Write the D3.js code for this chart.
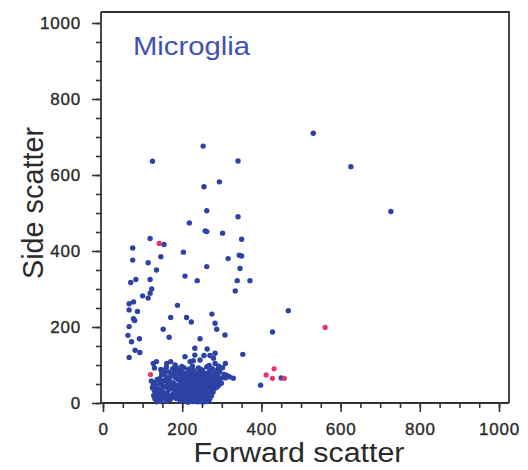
<!DOCTYPE html>
<html>
<head>
<meta charset="utf-8">
<script src="https://cdn.jsdelivr.net/npm/d3@7"></script>
<style>
  html, body { margin: 0; padding: 0; background: #fff; }
  svg { display: block; }
  text { font-family: "Liberation Sans", Arial, sans-serif; }
</style>
</head>
<body>
<svg id="chart" width="528" height="470"></svg>
<script>
// ---------- data ----------
const title = "Microglia";
const xTitle = "Forward scatter";
const yTitle = "Side scatter";
const xTicks = [0, 200, 400, 600, 800, 1000];
const yTicks = [0, 200, 400, 600, 800, 1000];

// blue events, sparse region  [forward, side]
const blueSparse = [
  [125,636],[253,676],[341,637],[255,569],[294,582],[262,506],[341,490],[218,474],
  [258,453],[262,451],[302,447],[531,710],[626,622],[727,504],
  [119,433],[154,417],[75,408],[203,397],[316,380],[146,385],[75,376],[114,369],
  [262,359],[135,350],[207,334],[83,325],[70,317],[119,325],[238,322],[123,300],
  [119,289],[100,282],[114,276],[77,266],[66,261],[188,257],[66,245],[87,241],
  [77,222],[80,217],[171,225],[211,225],[223,213],[275,234],[283,210],[66,201],
  [152,194],[287,194],[63,178],[92,169],[167,173],[245,169],[308,179],
  [350,431],[344,389],[350,387],[346,354],[339,322],[371,322],[334,295],[468,243],[428,187],
  [72,161],[81,139],[93,133],[66,120],[232,144],[263,142],[283,131],[353,128],
  [398,47],[450,66]
];

// blue events, dense cluster  [forward, side]
const blueCluster = [
  [127,104],[135,109],[161,104],[171,109],[182,100],[199,96],[207,122],[220,109],
  [228,111],[232,126],[245,113],[255,125],[270,125],[279,118],[283,104],[309,104],[302,93],
  [130,92],[146,88],[160,94],[176,90],[191,87],[204,93],[216,89],[241,92],[251,86],[262,95],[276,90],[290,88],
  [148,82],[151,78],[166,82],[186,79],[196,84],[210,77],[224,82],[236,79],[247,84],[258,78],[268,82],[281,77],[295,82],[306,75],
  [148,74],[161,68],[178,71],[199,72],[212,66],[222,73],[232,68],[243,71],[253,67],[262,74],[273,69],[285,72],[300,66],[319,69],[329,65],
  [122,58],[137,62],[155,60],[171,56],[190,62],[204,58],[216,61],[228,57],[238,63],[248,59],[257,62],[268,56],[279,60],[291,57],
  [127,48],[144,52],[153,45],[168,50],[186,47],[199,53],[211,49],[222,46],[233,51],[244,48],[255,53],[265,47],[276,50],[292,47],
  [125,40],[140,37],[158,42],[175,39],[194,36],[206,41],[218,38],[228,43],[240,37],[250,41],[260,36],[271,40],[282,38],
  [131,30],[136,27],[150,31],[165,34],[180,28],[194,30],[205,33],[215,27],[226,31],[236,28],[246,32],[256,27],[266,31],[278,29],
  [128,20],[142,17],[158,22],[172,19],[188,16],[200,21],[212,18],[224,22],[234,17],[245,21],[255,18],[265,22],[274,19],
  [131,11],[140,8],[155,12],[170,9],[185,12],[205,8],[218,11],[230,7],[238,12],[248,9],[258,11],[268,8],
  [135,3],[215,2],[225,4],[240,3],[252,2],
  [230,35],[245,45],[255,55],[262,45],[235,60],[225,25],[250,15],[270,55],[285,62],[240,75],[260,65],[215,55],
  [185,94],[226,97],[268,99],[292,97],
  [156,86],[181,84],[228,87],[246,89],[271,86],[286,84],
  [155,76],[172,76],[192,76],[205,79],[217,76],[229,76],[252,76],[265,78],[276,74],[290,76],[312,73],
  [143,64],[167,66],[184,66],[196,64],[207,68],[218,67],[227,64],[237,66],[248,64],[258,68],[267,64],[279,67],[294,64],[309,66],
  [131,54],[147,57],[162,55],[178,53],[196,56],[208,53],[221,54],[233,56],[243,55],[252,52],[262,57],[273,52],[284,55],[299,52],
  [134,44],[148,48],[162,46],[176,45],[193,44],[204,46],[216,44],[227,48],[237,45],[249,46],[259,44],[270,45],[281,46],[288,42],
  [129,35],[147,34],[167,38],[184,35],[200,37],[212,34],[223,35],[234,34],[244,36],[255,33],[265,35],[276,34],
  [133,24],[145,25],[162,26],[177,24],[191,24],[203,26],[219,24],[230,26],[240,25],[251,24],[261,26],[270,25],
  [135,15],[150,16],[164,14],[180,15],[195,15],[207,14],[222,15],[240,15],[260,14],[270,13],
  [145,4],[160,5],[195,5],[210,6],[233,4],[245,5],[262,4]
];

// pink events  [forward, side]
const pinkEvents = [[142,420],[120,75],[561,199],[432,90],[412,74],[428,65],[458,65]];

// ---------- drawing ----------
const svg = d3.select("#chart");
const x = d3.scaleLinear().domain([0, 1000]).range([103, 499]);
const y = d3.scaleLinear().domain([0, 1000]).range([403, 23]);

const axisColor = "#333";
const frameLeft = 101, frameTop = 12, frameRight = 509, frameBottom = 403;

svg.append("path")
  .attr("d", `M${frameLeft},${frameTop}H${frameRight}V${frameBottom}`)
  .attr("fill", "none").attr("stroke", axisColor).attr("stroke-width", 1.8);
svg.append("line").attr("x1", frameLeft).attr("x2", frameLeft).attr("y1", frameTop).attr("y2", frameBottom)
  .attr("stroke", axisColor).attr("stroke-width", 1.8);
svg.append("line").attr("x1", frameLeft).attr("x2", frameRight).attr("y1", frameBottom).attr("y2", frameBottom)
  .attr("stroke", axisColor).attr("stroke-width", 1.8);

const minor = d3.range(0, 1001, 50);
const gxMinor = svg.append("g").attr("transform", `translate(0,${frameBottom})`)
  .call(d3.axisBottom(x).tickValues(minor).tickSize(5).tickFormat(""));
const gyMinor = svg.append("g").attr("transform", `translate(${frameLeft},0)`)
  .call(d3.axisLeft(y).tickValues(minor).tickSize(5).tickFormat(""));

const fmt = d3.format("d");
const gx = svg.append("g").attr("transform", `translate(0,${frameBottom})`)
  .call(d3.axisBottom(x).tickValues(xTicks).tickFormat(fmt).tickSize(9).tickPadding(11));
const gy = svg.append("g").attr("transform", `translate(${frameLeft},0)`)
  .call(d3.axisLeft(y).tickValues(yTicks).tickFormat(fmt).tickSize(9).tickPadding(11));

[gxMinor, gyMinor, gx, gy].forEach(g => {
  g.select(".domain").remove();
  g.selectAll(".tick line").attr("stroke", axisColor).attr("stroke-width", 1.6);
});
[gx, gy].forEach(g => {
  g.selectAll(".tick text")
    .attr("fill", "#2a2a2a")
    .attr("stroke", "#2a2a2a").attr("stroke-width", 0.35)
    .style("font-family", "'Liberation Sans', Arial, sans-serif")
    .style("font-size", "17px")
    .style("letter-spacing", "0.8px");
});

svg.append("text")
  .attr("x", 299).attr("y", 462)
  .attr("text-anchor", "middle")
  .attr("fill", "#2a2a2a")
  .style("font-size", "27px")
  .attr("textLength", 211).attr("lengthAdjust", "spacingAndGlyphs")
  .text(xTitle);

svg.append("text")
  .attr("transform", "translate(43,203) rotate(-90)")
  .attr("text-anchor", "middle")
  .attr("fill", "#2a2a2a")
  .style("font-size", "30px")
  .attr("textLength", 152).attr("lengthAdjust", "spacingAndGlyphs")
  .text(yTitle);

svg.append("text")
  .attr("x", 133).attr("y", 55)
  .attr("fill", "#3f51b5")
  .style("font-size", "26px")
  .attr("textLength", 117).attr("lengthAdjust", "spacingAndGlyphs")
  .text(title);

const blueColor = "#2d43a3";
const pinkColor = "#e8326c";
svg.append("g").selectAll("circle")
  .data(blueSparse.concat(blueCluster))
  .join("circle")
  .attr("cx", d => x(d[0])).attr("cy", d => y(d[1]))
  .attr("r", 2.7).attr("fill", blueColor);

svg.append("g").selectAll("circle")
  .data(pinkEvents)
  .join("circle")
  .attr("cx", d => x(d[0])).attr("cy", d => y(d[1]))
  .attr("r", 2.6).attr("fill", pinkColor);
</script>
</body>
</html>
